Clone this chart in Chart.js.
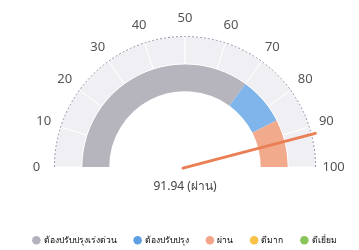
<!DOCTYPE html>
<html>
<head>
<meta charset="utf-8">
<script src="https://cdn.jsdelivr.net/npm/chart.js@4.4.0/dist/chart.umd.min.js"></script>
<style>
  html, body { margin: 0; padding: 0; background: #fff; }
  #wrap { width: 359px; height: 250px; }
</style>
</head>
<body>
<div id="wrap"><canvas id="gaugeChart"></canvas></div>
<script>
// scale ticks round the gauge
const tickLabels = [0, 10, 20, 30, 40, 50, 60, 70, 80, 90, 100];
// coloured zones of the inner ring
const zoneNames = ["ต้องปรับปรุงเร่งด่วน", "ต้องปรับปรุง", "ผ่าน"];
const zoneValues = [70, 15, 15];
const zoneColors = ["#b6b4bd", "#7fb5ea", "#f2aa8c"];
// needle value
const score = 91.94;
const scoreText = "ผ่าน";
// legend
const legendNames = ["ต้องปรับปรุงเร่งด่วน", "ต้องปรับปรุง", "ผ่าน", "ดีมาก", "ดีเยี่ยม"];
const legendColors = ["#b3b1bc", "#5e9fe2", "#f3a58b", "#f7c245", "#88c45a"];

const bandValues = tickLabels.slice(1).map((t, i) => t - tickLabels[i]);
const maxValue = tickLabels[tickLabels.length - 1];

const gaugeDecor = {
  id: "gaugeDecor",
  beforeInit(chart) {
    // keep the legend box short so it sits at the bottom edge
    const fit = chart.legend.fit;
    chart.legend.fit = function () {
      fit.call(this);
      this.height = 32;
    };
  },
  afterDatasetsDraw(chart) {
    const ctx = chart.ctx;
    const band = chart.getDatasetMeta(0).data[0];
    const cx = band.x, cy = band.y, r = band.outerRadius;
    const start = band.startAngle;

    // dashed outer edge
    ctx.save();
    ctx.strokeStyle = "#8e93a8";
    ctx.lineWidth = 1;
    ctx.setLineDash([2, 2]);
    ctx.beginPath();
    ctx.arc(cx, cy, r, Math.PI, 2 * Math.PI);
    ctx.stroke();
    ctx.restore();

    // tick labels
    ctx.save();
    ctx.fillStyle = "#555";
    ctx.font = "13px 'Noto Sans', sans-serif";
    ctx.textAlign = "center";
    ctx.textBaseline = "middle";
    tickLabels.forEach(t => {
      const a = start + (t / maxValue) * Math.PI;
      ctx.fillText(String(t), cx + Math.cos(a) * (r + 18), cy + Math.sin(a) * (r + 18));
    });
    ctx.restore();

    // needle
    const a = start + (score / maxValue) * Math.PI;
    ctx.save();
    ctx.strokeStyle = "#ea7f55";
    ctx.lineWidth = 3;
    ctx.lineCap = "round";
    ctx.beginPath();
    ctx.moveTo(cx - 2, cy + 1);
    ctx.lineTo(cx + Math.cos(a) * (r + 4), cy + Math.sin(a) * (r + 4));
    ctx.stroke();
    ctx.restore();
  },
};

const gaugeChart = document.getElementById("gaugeChart").getContext("2d");
new Chart(gaugeChart, {
  type: "doughnut",
  data: {
    labels: tickLabels.slice(1).map(String),
    datasets: [
      {
        data: bandValues,
        backgroundColor: "#efeff4",
        borderColor: "#ffffff",
        borderWidth: 1,
      },
      {
        data: zoneValues,
        backgroundColor: zoneColors,
        borderWidth: 0,
      },
    ],
  },
  options: {
    responsive: true,
    maintainAspectRatio: false,
    animation: false,
    rotation: -90,
    circumference: 180,
    cutout: "58%",
    layout: { padding: { left: 11, right: 0, top: 36, bottom: 0 } },
    plugins: {
      tooltip: { enabled: false },
      title: {
        display: true,
        position: "bottom",
        weight: 500,
        text: score + " (" + scoreText + ")",
        color: "#444",
        font: { size: 12, weight: "normal", family: "'Noto Sans', sans-serif" },
        padding: { top: 12, bottom: 24 },
      },
      legend: {
        position: "bottom",
        labels: {
          usePointStyle: true,
          pointStyle: "circle",
          boxWidth: 6,
          boxHeight: 6,
          padding: 18,
          color: "#8a88a8",
          font: { size: 8.5, family: "'Noto Sans', sans-serif" },
          generateLabels: () =>
            legendNames.map((name, i) => ({
              text: name,
              fillStyle: legendColors[i],
              strokeStyle: legendColors[i],
              lineWidth: 0,
              pointStyle: "circle",
              hidden: false,
              index: i,
            })),
        },
      },
    },
  },
  plugins: [gaugeDecor],
});
</script>
</body>
</html>
